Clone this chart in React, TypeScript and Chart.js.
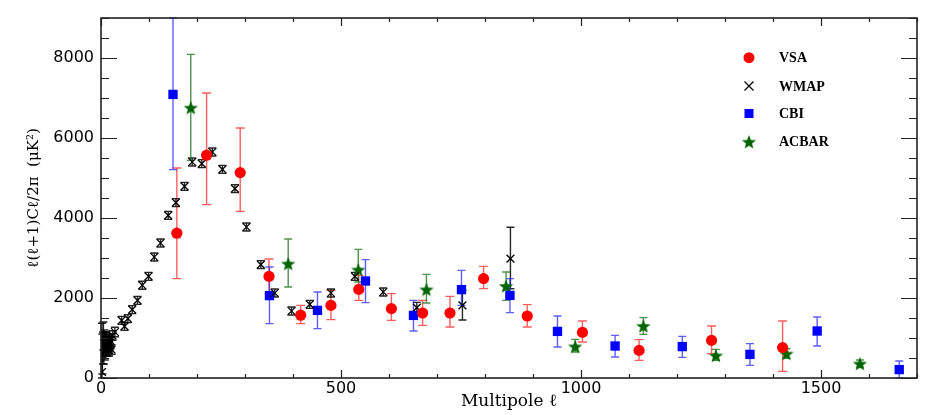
import React, { useEffect, useRef } from 'react';
import { Chart, registerables } from 'chart.js';

Chart.register(...registerables);

// ---- Data (multipole ℓ, ℓ(ℓ+1)Cℓ/2π in μK², lower / upper error bar ends) ----
const vsaL = [158, 220, 290, 350, 416, 479, 537, 605, 670, 727, 797, 888, 1003, 1121, 1272, 1420];
const vsaV = [3620, 5570, 5135, 2540, 1570, 1815, 2215, 1735, 1625, 1625, 2485, 1550, 1140, 690, 940, 760];
const vsaLo = [2485, 4335, 4165, 2110, 1360, 1460, 1940, 1440, 1315, 1275, 2235, 1275, 900, 440, 610, 165];
const vsaHi = [5250, 7125, 6250, 2975, 1815, 2190, 2565, 2110, 1940, 2040, 2790, 1835, 1425, 960, 1300, 1425];

const wmapL = [2, 3, 4, 5, 6, 7, 8, 9, 10, 11, 12, 13, 14, 15, 16, 17, 18, 19, 20,
  22, 24, 29, 43, 49, 56, 65, 76, 86, 99,
  111, 124, 140, 156, 174, 190, 210, 232, 253, 279,
  303, 333, 362, 397, 435, 479, 529, 588, 658, 753, 853];
const wmapV = [150, 600, 750, 1050, 650, 950, 700, 900, 800, 1000, 700, 950, 700, 900, 800, 700, 850, 950, 880,
  710, 1060, 1150, 1440, 1290, 1485, 1710, 1940, 2320, 2540,
  3025, 3375, 4065, 4385, 4790, 5400, 5360, 5650, 5215, 4735,
  3775, 2835, 2125, 1675, 1840, 2125, 2540, 2150, 1760, 1815, 2985];
const wmapLo = [0, 100, 350, 700, 350, 700, 450, 650, 550, 850, 550, 800, 550, 750, 650, 550, 700, 800, 730,
  590, 940, 1030, 1340, 1190, 1385, 1610, 1840, 2220, 2440,
  2925, 3275, 3965, 4285, 4690, 5300, 5260, 5550, 5115, 4635,
  3675, 2735, 2025, 1575, 1740, 2025, 2440, 2050, 1630, 1450, 2230];
const wmapHi = [1370, 1100, 1150, 1400, 950, 1200, 950, 1150, 1050, 1150, 850, 1100, 850, 1050, 950, 850, 1000, 1100, 1030,
  830, 1180, 1270, 1540, 1390, 1585, 1810, 2040, 2420, 2640,
  3125, 3475, 4165, 4485, 4890, 5500, 5460, 5750, 5315, 4835,
  3875, 2935, 2225, 1775, 1940, 2225, 2640, 2250, 1890, 2200, 3770];

const cbiL = [150, 351, 451, 551, 651, 751, 852, 951, 1071, 1211, 1352, 1492, 1663];
const cbiV = [7090, 2060, 1690, 2425, 1565, 2210, 2065, 1165, 800, 785, 590, 1175, 210];
const cbiLo = [5210, 1360, 1235, 1885, 1175, 1815, 1635, 775, 525, 515, 315, 800, 0];
const cbiHi = [9000, 2775, 2150, 2960, 1940, 2690, 2485, 1550, 1065, 1040, 860, 1525, 425];

const acbarL = [187, 390, 536, 678, 844, 988, 1130, 1281, 1428, 1581];
const acbarV = [6760, 2860, 2710, 2215, 2300, 790, 1300, 565, 610, 360];
const acbarLo = [5440, 2275, 2400, 1875, 1940, 650, 1090, 440, 490, 270];
const acbarHi = [8090, 3475, 3215, 2590, 2650, 965, 1510, 715, 730, 450];

const xTickLabels = ['0', '500', '1000', '1500'];
const yTickLabels = ['0', '2000', '4000', '6000', '8000'];
const legendLabels = ['VSA', 'WMAP', 'CBI', 'ACBAR'];

// ---- helpers ----
function pts(L: number[], V: number[], lo: number[], hi: number[]) {
  return L.map((l, i) => ({ x: l, y: V[i], lo: lo[i], hi: hi[i] }));
}

function makeStar(size: number, color: string): HTMLCanvasElement {
  const c = document.createElement('canvas');
  c.width = size;
  c.height = size;
  const ctx = c.getContext('2d')!;
  const R = size / 2 - 0.5;
  const r = R * 0.42;
  const cx = size / 2;
  const cy = size / 2 + R * 0.1;
  ctx.beginPath();
  for (let i = 0; i < 10; i++) {
    const rad = i % 2 === 0 ? R : r;
    const a = -Math.PI / 2 + (i * Math.PI) / 5;
    const px = cx + rad * Math.cos(a);
    const py = cy + rad * Math.sin(a);
    if (i === 0) ctx.moveTo(px, py);
    else ctx.lineTo(px, py);
  }
  ctx.closePath();
  ctx.fillStyle = color;
  ctx.fill();
  return c;
}

const RED = '#ff0000';
const BLUE = '#0000ff';
const GREEN = '#006400';

const errorBarPlugin = {
  id: 'errorBars',
  beforeDatasetsDraw(chart: any) {
    const ctx = chart.ctx;
    const ys = chart.scales.y;
    ctx.save();
    chart.data.datasets.forEach((ds: any, di: number) => {
      const meta = chart.getDatasetMeta(di);
      ctx.strokeStyle = ds.errColor;
      ctx.lineWidth = ds.errWidth || 1.4;
      const cap = ds.capHalf || 4;
      meta.data.forEach((el: any, i: number) => {
        const d = ds.data[i];
        const x = el.x;
        const yLo = ys.getPixelForValue(d.lo);
        const yHi = ys.getPixelForValue(d.hi);
        ctx.beginPath();
        ctx.moveTo(x, yLo);
        ctx.lineTo(x, yHi);
        ctx.moveTo(x - cap, yLo);
        ctx.lineTo(x + cap, yLo);
        ctx.moveTo(x - cap, yHi);
        ctx.lineTo(x + cap, yHi);
        ctx.stroke();
      });
    });
    ctx.restore();
  },
};

const frameTickPlugin = {
  id: 'frameTicks',
  afterDraw(chart: any) {
    const ctx = chart.ctx;
    const { left, right, top, bottom } = chart.chartArea;
    const xs = chart.scales.x;
    const ys = chart.scales.y;
    ctx.save();
    ctx.strokeStyle = '#222';
    ctx.lineWidth = 1.2;
    ctx.beginPath();
    xs.ticks.forEach((t: any) => {
      const px = Math.round(xs.getPixelForValue(t.value)) + 0.5;
      const len = t.value % 500 === 0 ? 8 : 4;
      ctx.moveTo(px, bottom);
      ctx.lineTo(px, bottom - len);
      ctx.moveTo(px, top);
      ctx.lineTo(px, top + len);
    });
    ys.ticks.forEach((t: any) => {
      const py = Math.round(ys.getPixelForValue(t.value)) + 0.5;
      const len = t.value % 2000 === 0 ? 16 : 8;
      ctx.moveTo(left, py);
      ctx.lineTo(left + len, py);
      ctx.moveTo(right, py);
      ctx.lineTo(right - len, py);
    });
    ctx.stroke();
    ctx.lineWidth = 1.6;
    ctx.strokeRect(left, top, right - left, bottom - top);
    ctx.restore();
  },
};

const legendPlugin = {
  id: 'insideLegend',
  afterDraw(chart: any) {
    const ctx = chart.ctx;
    const mx = 749;
    const tx = 779;
    const ys = [57.7, 86, 113.5, 141.7];
    ctx.save();
    ctx.font = 'bold 14px "Liberation Serif"';
    ctx.fillStyle = '#000';
    ctx.textBaseline = 'middle';
    ctx.textAlign = 'left';
    legendLabels.forEach((lab, i) => ctx.fillText(lab, tx, ys[i] + 1));
    // VSA circle
    ctx.fillStyle = RED;
    ctx.beginPath();
    ctx.arc(mx, ys[0], 5.5, 0, Math.PI * 2);
    ctx.fill();
    // WMAP cross
    ctx.strokeStyle = '#000';
    ctx.lineWidth = 1.2;
    ctx.beginPath();
    ctx.moveTo(mx - 4.5, ys[1] - 4.5);
    ctx.lineTo(mx + 4.5, ys[1] + 4.5);
    ctx.moveTo(mx - 4.5, ys[1] + 4.5);
    ctx.lineTo(mx + 4.5, ys[1] - 4.5);
    ctx.stroke();
    // CBI square
    ctx.fillStyle = BLUE;
    ctx.fillRect(mx - 4.5, ys[2] - 4.5, 9, 9);
    // ACBAR star
    const st = chart.data.datasets[3].pointStyle;
    ctx.drawImage(st, mx - st.width / 2, ys[3] - st.height / 2);
    ctx.restore();
  },
};

export default function App() {
  const ref = useRef<HTMLCanvasElement | null>(null);

  useEffect(() => {
    document.body.style.margin = '0';
    const star = makeStar(16, GREEN);
    const chart = new Chart(ref.current!, {
      type: 'scatter',
      data: {
        datasets: [
          {
            label: legendLabels[0],
            data: pts(vsaL, vsaV, vsaLo, vsaHi),
            pointStyle: 'circle',
            pointRadius: 5.6,
            pointBorderWidth: 0,
            backgroundColor: RED,
            borderColor: RED,
            errColor: 'rgba(255,40,40,0.75)',
            capHalf: 4.5,
          } as any,
          {
            label: legendLabels[1],
            data: pts(wmapL, wmapV, wmapLo, wmapHi),
            pointStyle: 'crossRot',
            pointRadius: 5.5,
            pointBorderWidth: 1.3,
            backgroundColor: '#000',
            borderColor: '#000',
            errColor: 'rgba(0,0,0,0.85)',
            capHalf: 4,
          } as any,
          {
            label: legendLabels[2],
            data: pts(cbiL, cbiV, cbiLo, cbiHi),
            pointStyle: 'rect',
            pointRadius: 6.6,
            pointBorderWidth: 0,
            backgroundColor: BLUE,
            borderColor: BLUE,
            errColor: 'rgba(40,40,255,0.75)',
            capHalf: 4,
          } as any,
          {
            label: legendLabels[3],
            data: pts(acbarL, acbarV, acbarLo, acbarHi),
            pointStyle: star,
            pointRadius: 7,
            backgroundColor: GREEN,
            borderColor: GREEN,
            errColor: 'rgba(20,110,20,0.75)',
            capHalf: 4,
          } as any,
        ],
      },
      options: {
        animation: false,
        responsive: true,
        maintainAspectRatio: false,
        layout: { padding: { left: 21, top: 18, right: 33, bottom: 1 } },
        plugins: {
          legend: { display: false },
          tooltip: { enabled: false },
        },
        scales: {
          x: {
            type: 'linear',
            min: 0,
            max: 1700,
            grid: { display: false, drawTicks: false },
            border: { display: false },
            afterFit: (s: any) => {
              s.height = 36;
            },
            ticks: {
              stepSize: 100,
              autoSkip: false,
              maxRotation: 0,
              padding: 1,
              color: '#000',
              font: { family: '"DejaVu Sans"', size: 16 },
              callback: (v: any) => (xTickLabels.includes(String(v)) ? String(v) : ''),
            },
            title: {
              display: true,
              text: 'Multipole ℓ',
              color: '#000',
              font: { family: '"DejaVu Serif"', size: 17 },
              padding: { top: 0, bottom: 2 },
            },
          },
          y: {
            type: 'linear',
            min: 0,
            max: 9000,
            grid: { display: false, drawTicks: false },
            border: { display: false },
            afterFit: (s: any) => {
              s.width = 80;
            },
            ticks: {
              stepSize: 500,
              autoSkip: false,
              padding: 7,
              color: '#000',
              font: { family: '"DejaVu Sans"', size: 16 },
              callback: (v: any) => (yTickLabels.includes(String(v)) ? String(v) : ''),
            },
            title: {
              display: true,
              text: 'ℓ(ℓ+1)Cℓ/2π  (μK²)',
              color: '#000',
              font: { family: '"DejaVu Serif"', size: 15 },
              padding: { top: 4, bottom: 4 },
            },
          },
        },
      },
      plugins: [errorBarPlugin, frameTickPlugin, legendPlugin],
    });
    return () => chart.destroy();
  }, []);

  return (
    <div style={{ position: 'relative', width: 950, height: 415 }}>
      <canvas ref={ref} />
    </div>
  );
}
